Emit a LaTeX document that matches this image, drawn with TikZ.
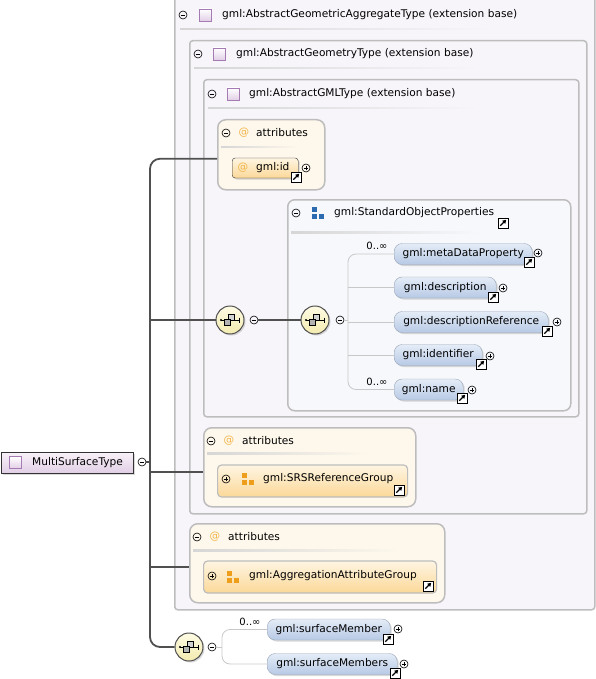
\documentclass[tikz,border=0pt]{standalone}
\usepackage{fontspec}
\setmainfont{DejaVu Sans}
\usepackage{tikz}
\usepackage{color}
\usetikzlibrary{shadows,arrows.meta}
\definecolor{boxline}{HTML}{BDBDBD}
\definecolor{sepline}{HTML}{D6D6D6}
\definecolor{typefill}{HTML}{F8F5FA}
\definecolor{attrfill}{HTML}{FEF8EC}
\definecolor{sopfill}{HTML}{F7F8FC}
\definecolor{elemtop}{HTML}{E4ECF7}
\definecolor{elembot}{HTML}{B7C9E5}
\definecolor{elemline}{HTML}{9AA6B6}
\definecolor{grptop}{HTML}{FEF5E2}
\definecolor{grpbot}{HTML}{FBD898}
\definecolor{atcolor}{HTML}{F2B54A}
\definecolor{grporange}{HTML}{EE9E1A}
\definecolor{sopblue}{HTML}{2D6BB0}
\definecolor{typetop}{HTML}{F8F2F9}
\definecolor{typebot}{HTML}{E2CFE6}
\definecolor{typeline}{HTML}{A57BB4}
\definecolor{seqtop}{HTML}{FDFBE4}
\definecolor{seqbot}{HTML}{F3EBB0}
\definecolor{trunkcol}{HTML}{505050}
\definecolor{branchcol}{HTML}{C8C8C8}

\begin{document}
\begin{tikzpicture}[x=1pt, y=-1pt, font=\fontsize{10.6}{12}\selectfont, every node/.style={inner sep=0pt},
typebox/.style={draw=boxline, line width=1.5pt, fill=typefill, rounded corners=3pt, anchor=north west},
attrbox/.style={draw=boxline, line width=1.5pt, fill=attrfill, rounded corners=8pt, anchor=north west},
sopbox/.style={draw=boxline, line width=1.5pt, fill=sopfill, rounded corners=7pt, anchor=north west},
elem/.style={draw=elemline, top color=elemtop, bottom color=elembot, rounded corners=8pt, minimum height=21pt, anchor=west, drop shadow={shadow xshift=1.5pt, shadow yshift=-1.5pt, opacity=0.3}},
grp/.style={draw=boxline, line width=1.2pt, top color=grptop, bottom color=grpbot, rounded corners=4pt, minimum height=32pt, anchor=west},
idnode/.style={draw=black!80, top color=grptop, bottom color=grpbot, rounded corners=3pt, minimum width=66pt, minimum height=20pt, anchor=west, drop shadow={shadow xshift=1.5pt, shadow yshift=-1.5pt, opacity=0.3}},
mstnode/.style={draw=black!80, top color=typetop, bottom color=typebot, minimum width=132pt, minimum height=21pt, anchor=west, drop shadow={shadow xshift=1.5pt, shadow yshift=-1.5pt, opacity=0.3}},
seq/.style={circle, draw=trunkcol, line width=1pt, top color=seqtop, bottom color=seqbot, minimum size=28pt, drop shadow={shadow xshift=1.5pt, shadow yshift=-1.5pt, opacity=0.3}},
collapse/.style={circle, draw, line width=0.6pt, minimum size=8pt, path picture={\draw[line width=0.6pt] ([xshift=-2.3pt]path picture bounding box.center) -- ([xshift=2.3pt]path picture bounding box.center);}},
expand/.style={circle, draw, line width=0.6pt, minimum size=8pt, path picture={\draw[line width=0.6pt] ([xshift=-2.3pt]path picture bounding box.center) -- ([xshift=2.3pt]path picture bounding box.center); \draw[line width=0.6pt] ([yshift=-2.3pt]path picture bounding box.center) -- ([yshift=2.3pt]path picture bounding box.center);}},
jump/.style={draw, line width=0.8pt, fill=white, minimum size=10pt, path picture={\draw[line width=1.2pt, -{Triangle[length=3.5pt,width=4pt]}] ([shift={(2.3pt,2.3pt)}]path picture bounding box.south west) -- ([shift={(-1.8pt,-1.8pt)}]path picture bounding box.north east);}},
typeicon/.style={draw=typeline, line width=0.6pt, top color=white, bottom color=typebot, minimum size=12pt},
grpicon/.style={minimum size=14pt, path picture={\fill[#1] ([shift={(-6pt,6pt)}]path picture bounding box.center) rectangle +(5pt,-5pt); \fill[#1] ([shift={(-6pt,-1pt)}]path picture bounding box.center) rectangle +(5pt,-5pt); \fill[#1] ([shift={(1pt,-1pt)}]path picture bounding box.center) rectangle +(5pt,-5pt);}},
atsign/.style={text=atcolor},
mult/.style={font=\fontsize{10}{12}\selectfont},
trunk/.style={draw=trunkcol, line width=1.8pt},
branch/.style={draw=branchcol, line width=0.8pt},
seqmark/.pic={
  \draw[line width=0.6pt] (-9,0) -- (9,0);
  \fill (-9,0) circle (1.2);
  \draw[line width=0.9pt] (9,-2.5) -- (9,2.5);
  \draw[line width=0.6pt, fill=gray!35] (-2,-6) rectangle (4,0);
  \draw[line width=0.6pt, fill=gray!60] (-6,-1) rectangle (0,5);
}]
\clip (0,0) rectangle (596,679);

\node[typebox, minimum width=420pt, minimum height=613pt] (gagt) at (174,-4) {};
\shade[left color=sepline, right color=typefill] (180,28.5) rectangle (490,30);
\node[collapse] (gagtc) at (183,15) {};
\node[typeicon] (gagti) at (205,15) {};
\node[anchor=west] (gagth) at (222,15) {gml:AbstractGeometricAggregateType (extension base)};

\node[typebox, minimum width=397pt, minimum height=473pt] (agt) at (189,40) {};
\shade[left color=sepline, right color=typefill] (194,67.5) rectangle (480,69);
\node[collapse] (agtc) at (198,54) {};
\node[typeicon] (agti) at (219,54) {};
\node[anchor=west] (agth) at (236,54) {gml:AbstractGeometryType (extension base)};

\node[typebox, minimum width=375pt, minimum height=337pt] (gmlt) at (203,79) {};
\shade[left color=sepline, right color=typefill] (208,107.5) rectangle (480,109);
\node[collapse] (gmltc) at (212,94) {};
\node[typeicon] (gmlti) at (233,94) {};
\node[anchor=west] (gmlth) at (249,94) {gml:AbstractGMLType (extension base)};

\node[attrbox, minimum width=107pt, minimum height=70pt] (attrA) at (217,119) {};
\shade[left color=sepline, right color=attrfill] (221,146.5) rectangle (300,148);
\node[collapse] (attrAc) at (226,133) {};
\node[atsign] (attrAat) at (244,133) {@};
\node[anchor=west] (attrAt) at (256,133) {attributes};
\node[idnode] (gid) at (232,168) {};
\node[atsign] (gidat) at (243,168) {@};
\node[anchor=west] (gidt) at (256,168) {gml:id};
\node[jump] (gidj) at (296,177) {};
\node[expand] (gidx) at (306,168) {};

\node[sopbox, minimum width=283pt, minimum height=211pt] (sop) at (287,199) {};
\shade[left color=sepline, right color=sopfill] (291,231.5) rectangle (480,233);
\node[collapse] (sopc) at (296,213) {};
\node[grpicon=sopblue] (sopi) at (318,213) {};
\node[anchor=west] (sopt) at (334,213) {gml:StandardObjectProperties};
\node[jump] (sopj) at (503,223) {};

\node[elem, minimum width=138pt] (mdp) at (394,254) {gml:metaDataProperty};
\node[elem, minimum width=102pt] (desc) at (394,287.5) {gml:description};
\node[elem, minimum width=154pt] (dref) at (394,322) {gml:descriptionReference};
\node[elem, minimum width=88pt] (ident) at (394,355) {gml:identifier};
\node[elem, minimum width=69pt] (gname) at (394,389.5) {gml:name};
\node[mult] (mdpm) at (377,246) {0..∞};
\node[mult] (gnamem) at (377,382) {0..∞};
\node[jump] (mdpj) at (529,262) {};
\node[expand] (mdpx) at (538,253) {};
\node[jump] (descj) at (493,297) {};
\node[expand] (descx) at (503,288) {};
\node[jump] (drefj) at (547,331) {};
\node[expand] (drefx) at (557,322) {};
\node[jump] (identj) at (481,364) {};
\node[expand] (identx) at (490,356) {};
\node[jump] (gnamej) at (462,398) {};
\node[expand] (gnamex) at (472,390) {};

\node[seq] (seqA) at (230,320) {};
\pic at (seqA) {seqmark};
\node[collapse] (seqAc) at (254,320) {};
\node[seq] (seqB) at (315,320) {};
\pic at (seqB) {seqmark};
\node[collapse] (seqBc) at (340,320) {};

\coordinate (sopfork) at (348,320);
\draw[branch, rounded corners=8pt] (mdp.west) -| (sopfork) |- (gname.west);
\draw[branch] (seqBc) -- (sopfork);
\draw[branch] (desc.west) -- (desc.west -| sopfork);
\draw[branch] (dref.west) -- (dref.west -| sopfork);
\draw[branch] (ident.west) -- (ident.west -| sopfork);
\draw[trunk] (seqAc) -- (seqB);

\node[attrbox, minimum width=212pt, minimum height=79pt] (attrB) at (203,427) {};
\shade[left color=sepline, right color=attrfill] (207,452.5) rectangle (370,454);
\node[collapse] (attrBc) at (211,441) {};
\node[atsign] (attrBat) at (229,441) {@};
\node[anchor=west] (attrBt) at (242,441) {attributes};
\node[grp, minimum width=190pt] (srs) at (217,481) {};
\node[expand] (srsx) at (226,479) {};
\node[grpicon=grporange] (srsi) at (247.5,479) {};
\node[anchor=west] (srst) at (263,479) {gml:SRSReferenceGroup};
\node[jump] (srsj) at (399,490) {};

\node[attrbox, minimum width=255pt, minimum height=79pt] (attrC) at (189,523) {};
\shade[left color=sepline, right color=attrfill] (193,549.5) rectangle (400,551);
\node[collapse] (attrCc) at (197,537) {};
\node[atsign] (attrCat) at (215,537) {@};
\node[anchor=west] (attrCt) at (228,537) {attributes};
\node[grp, minimum width=233pt] (agg) at (203,577) {};
\node[expand] (aggx) at (212,576) {};
\node[grpicon=grporange] (aggi) at (233,577) {};
\node[anchor=west] (aggt) at (249,576) {gml:AggregationAttributeGroup};
\node[jump] (aggj) at (428,586) {};

\node[mstnode] (mst) at (1,462.5) {};
\node[typeicon] (msti) at (15.5,462.5) {};
\node[anchor=west] (mstt) at (32,462.5) {MultiSurfaceType};
\node[collapse] (mstc) at (142,462) {};

\node[seq] (seqC) at (189,647) {};
\pic at (seqC) {seqmark};
\node[collapse] (seqCc) at (212,647) {};
\node[elem, minimum width=123pt] (smem) at (267,629.5) {gml:surfaceMember};
\node[elem, minimum width=130pt] (smems) at (267,664) {gml:surfaceMembers};
\node[mult] (smemm) at (250,622) {0..∞};
\node[jump] (smemj) at (388,639) {};
\node[expand] (smemx) at (398,629) {};
\node[jump] (smemsj) at (395,673) {};
\node[expand] (smemsx) at (404,664) {};
\coordinate (seqfork) at (222,647);
\draw[branch, rounded corners=8pt] (smem.west) -| (seqfork) |- (smems.west);
\draw[branch] (seqCc) -- (seqfork);

\coordinate (spinebot) at (150,647);
\draw[trunk, rounded corners=10pt] ([yshift=-4pt]attrA.west) -| (spinebot) -- (seqC);
\draw[trunk] (mstc) -- (mstc -| spinebot);
\draw[trunk] (seqA) -- (seqA -| spinebot);
\coordinate (attrBin) at ([yshift=-4.5pt]attrB.west);
\draw[trunk] (attrBin) -- (attrBin -| spinebot);
\coordinate (attrCin) at ([yshift=-3.5pt]attrC.west);
\draw[trunk] (attrCin) -- (attrCin -| spinebot);
\end{tikzpicture}
\end{document}
